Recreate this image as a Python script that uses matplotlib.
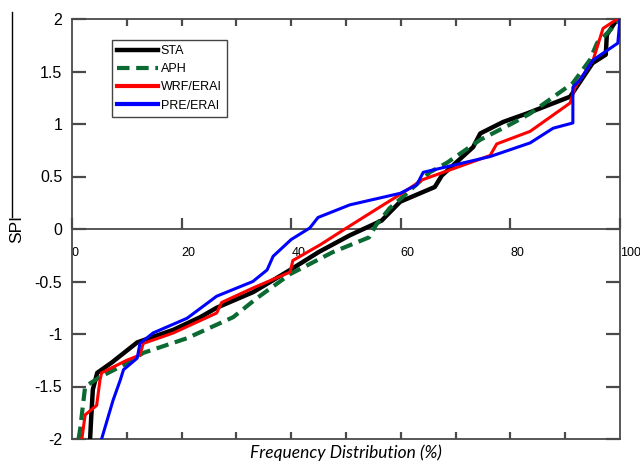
import numpy as np
import matplotlib
matplotlib.use("Agg")
import matplotlib.pyplot as plt
from matplotlib.lines import Line2D

plt.rcParams['font.family'] = ['Liberation Sans', 'DejaVu Sans']

# frequency distribution (%) vs SPI
sta_x = [3.3, 3.5, 3.8, 4.6, 7.3, 11.9, 18.5, 23.4, 26.4, 33.1, 39.8, 45.0, 50.7, 56.5,
         59.9, 66.2, 67.5, 73.2, 74.5, 78.7, 83.0, 90.9, 95.0, 97.4, 97.6, 99.5]
sta_y = [-2.0, -1.8, -1.53, -1.37, -1.27, -1.08, -0.96, -0.84, -0.75, -0.6, -0.39, -0.22,
         -0.06, 0.08, 0.26, 0.40, 0.51, 0.78, 0.91, 1.02, 1.10, 1.26, 1.58, 1.66, 1.85, 2.0]

aph_x = [1.2, 1.5, 2.4, 5.1, 10.0, 13.0, 21.0, 29.4, 33.7, 39.8, 47.6, 54.2, 55.5, 58.0,
         61.1, 65.3, 68.4, 74.5, 80.5, 83.6, 91.4, 94.5, 95.8, 98.7, 100.0]
aph_y = [-2.0, -1.9, -1.5, -1.41, -1.28, -1.18, -1.04, -0.84, -0.66, -0.43, -0.22, -0.08,
         0.04, 0.2, 0.34, 0.54, 0.63, 0.85, 1.01, 1.10, 1.39, 1.61, 1.77, 1.92, 2.0]

wrf_x = [1.8, 2.4, 4.5, 5.1, 5.4, 10.0, 12.4, 13.0, 18.5, 26.4, 27.3, 33.1, 39.8, 40.3,
         45.3, 49.5, 56.2, 59.3, 64.0, 76.3, 77.5, 83.6, 90.9, 91.8, 95.1, 96.9, 99.5]
wrf_y = [-2.0, -1.77, -1.68, -1.44, -1.37, -1.25, -1.2, -1.09, -0.99, -0.8, -0.7, -0.56,
         -0.41, -0.30, -0.15, -0.01, 0.21, 0.31, 0.47, 0.70, 0.81, 0.93, 1.2, 1.35, 1.61,
         1.91, 2.0]

pre_x = [5.4, 7.5, 8.8, 9.4, 11.9, 12.4, 14.8, 21.0, 26.4, 33.0, 35.6, 36.7, 40.0, 43.4,
         44.9, 50.7, 59.9, 62.9, 64.1, 76.3, 83.6, 87.8, 91.4, 91.4, 92.7, 95.1, 99.6, 100.0]
pre_y = [-2.0, -1.63, -1.44, -1.34, -1.23, -1.09, -0.99, -0.85, -0.64, -0.5, -0.39, -0.26,
         -0.1, 0.01, 0.11, 0.23, 0.34, 0.42, 0.54, 0.69, 0.82, 0.96, 1.01, 1.35, 1.42, 1.61,
         1.77, 2.0]

labels = ["STA", "APH", "WRF/ERAI", "PRE/ERAI"]
yticks = [-2, -1.5, -1, -0.5, 0, 0.5, 1, 1.5, 2]
yticklabels = ["-2", "-1.5", "-1", "-0.5", "0", "0.5", "1", "1.5", "2"]
xticks_minor = [10, 20, 30, 40, 50, 60, 70, 80, 90]
xticks = [0, 20, 40, 60, 80, 100]
xlabels = ["0", "20", "40", "60", "80", "100"]

fig = plt.figure(figsize=(6.4, 4.67), dpi=100)
ax = fig.add_axes([72/640, 28/467, 548/640, 420/467])
grey = "#4a4a4a"

ax.plot(sta_x, sta_y, color="black", lw=3.2, label=labels[0], zorder=3)
ax.plot(aph_x, aph_y, color="#0a6a32", lw=3.0, ls=(0, (3, 1.6)), label=labels[1], zorder=4)
ax.plot(wrf_x, wrf_y, color="#ff0000", lw=2.2, label=labels[2], zorder=5)
ax.plot(pre_x, pre_y, color="#0000ff", lw=2.2, label=labels[3], zorder=6)

ax.set_xlim(0, 100)
ax.set_ylim(-2, 2)
for s in ax.spines.values():
    s.set_color(grey)
    s.set_linewidth(1.3)

ax.set_yticks(yticks)
ax.set_yticklabels(yticklabels, fontsize=11.5)
ax.set_xticks(xticks_minor)
ax.tick_params(axis='y', direction='in', length=10, width=1.6, color=grey,
               pad=7, right=True)
ax.tick_params(axis='x', direction='in', length=5, width=1.6, color=grey,
               top=True, labelbottom=False)

# axis through y = 0 with labels
sec = ax.secondary_xaxis(0.4999)
sec.set_xticks(xticks)
sec.set_xticklabels(xlabels, fontsize=9, ha='left')
sec.tick_params(axis='x', direction='in', length=8, width=1.6, color=grey, pad=13)
sec.spines['bottom'].set_color(grey)
sec.spines['bottom'].set_linewidth(1.3)

ax.set_xlabel("Frequency Distribution (%)", fontsize=12.5, style='italic',
              family=['Lato', 'DejaVu Sans'], labelpad=4)
fig.text(17/640, 1 - 229/467, "SPI", rotation=90, fontsize=12.5, ha='center', va='center')
fig.add_artist(Line2D([12/640, 12/640], [1 - 12/467, 1 - 217/467], color='black', lw=1))

handles = [
    Line2D([], [], color="black", lw=3.2),
    Line2D([], [], color="#0a6a32", lw=3.0, ls=(0, (3, 1.6))),
    Line2D([], [], color="#ff0000", lw=3.0),
    Line2D([], [], color="#0000ff", lw=3.0),
]
leg = ax.legend(handles, labels, loc='upper left', bbox_to_anchor=(0.073, 0.95),
                fontsize=9, handlelength=3.3, handletextpad=0.2, labelspacing=0.5,
                borderpad=0.4, fancybox=False, framealpha=1, borderaxespad=0)
leg.get_frame().set_edgecolor("#444444")
leg.get_frame().set_linewidth(1.0)

fig.savefig("out.png", dpi=100)
